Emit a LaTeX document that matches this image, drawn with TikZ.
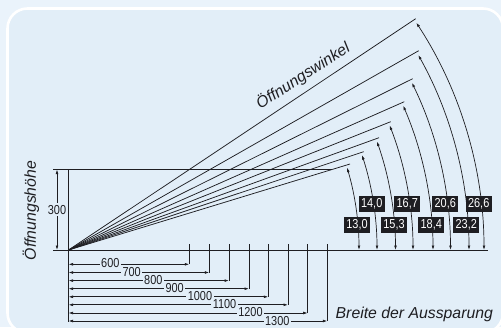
\documentclass[tikz,border=0pt]{standalone}
\usepackage{fontspec}
\setmainfont{Liberation Sans}
\newfontfamily\narrowfont[FakeStretch=0.84]{Liberation Sans}
\usetikzlibrary{arrows.meta}
\definecolor{outerbg}{HTML}{EAF3FB}
\definecolor{panelbg}{HTML}{E2EEF8}
\definecolor{ink}{HTML}{1E1E22}
\tikzset{
  x=1pt,y=-1pt,
  dimline/.style={draw=ink,line width=0.7pt,{Latex[length=4.5pt,width=2.8pt]}-{Latex[length=4.5pt,width=2.8pt]}},
  ray/.style={draw=ink,line width=0.75pt},
  baseline/.style={draw=ink,line width=0.95pt},
  tick/.style={draw=ink,line width=0.5pt},
  anglebox/.style={fill=ink,text=white,font=\narrowfont\fontsize{13}{14}\selectfont,minimum width=26pt,minimum height=16pt,inner sep=0pt},
  dimlabel/.style={fill=panelbg,text=ink,font=\narrowfont\fontsize{13}{14}\selectfont,inner xsep=1.5pt,inner ysep=0pt,text height=8pt,text depth=0pt},
  caption/.style={text=ink,font=\fontsize{15.8}{18}\selectfont\itshape,inner sep=0pt},
}
\begin{document}
\begin{tikzpicture}
\useasboundingbox (0,0) rectangle (501,327);
\fill[outerbg] (0,0) rectangle (501,327);
\draw[draw=white,line width=2.6pt,fill=panelbg,rounded corners=20pt] (7.5,8.5) rectangle (503,333);
% origin and reference lines
\coordinate (O) at (68.5,250);
\coordinate (baseL) at (53,250);
\coordinate (baseR) at (488,250);
\coordinate (topL) at (53,169.5);
\coordinate (topR) at (332,169.5);
\coordinate (topO) at (68.5,169.5);
\coordinate (bottomO) at (68.5,321.5);
\coordinate (h1) at (57,169.5);
\coordinate (h2) at (57,250);
\draw[baseline] (baseL) -- (baseR);
\draw[baseline] (topL) -- (topR);
\draw[baseline] (topO) -- (bottomO);
\draw[dimline] (h1) -- (h2) node[midway,fill=panelbg,text=ink,font=\narrowfont\fontsize{13}{14}\selectfont,inner xsep=0pt,inner ysep=2pt] (hlabel) {300};
% rays and angle arcs
\foreach \n/\ex/\ey/\r in {
  a/350/164/290.5,
  b/363.7/151.7/308.5,
  c/379/137.7/327,
  d/390.7/121.7/344.5,
  e/404.3/101.7/364.5,
  f/412.7/78.7/382,
  g/418.7/50.7/400.5,
  h/415.7/18.7/415.5}{
  \coordinate (ray\n) at (\ex,\ey);
  \draw[ray] (O) -- (ray\n);
  \pgfmathsetmacro{\ang}{atan2(250-\ey,\ex-68.5)-0.5}
  \draw[dimline] (68.5+\r,250) arc[start angle=0,end angle=-\ang,radius=\r];
}
% angle value boxes
\node[anglebox] (v13) at (357,225) {13,0};
\node[anglebox] (v14) at (371.7,203.7) {14,0};
\node[anglebox] (v153) at (394,225) {15,3};
\node[anglebox] (v167) at (407.3,203.7) {16,7};
\node[anglebox] (v184) at (431.3,225) {18,4};
\node[anglebox] (v206) at (445.3,203.7) {20,6};
\node[anglebox] (v232) at (466.3,225) {23,2};
\node[anglebox] (v266) at (478.7,203.7) {26,6};
% width dimensions
\foreach \n/\ex/\y in {
  600/189.3/264.3,
  700/209.3/272.5,
  800/229/280.6,
  900/249/288.7,
  1000/268.3/296.8,
  1100/288/304.8,
  1200/307.7/313,
  1300/327.3/321}{
  \coordinate (t\n) at (\ex,244);
  \coordinate (b\n) at (\ex,250);
  \coordinate (e\n) at (\ex,\y);
  \coordinate (s\n) at (68.5,\y);
  \draw[tick] (t\n) -- (b\n);
  \draw[tick,line width=0.7pt] (b\n) -- (e\n);
  \draw[dimline] (s\n) -- (e\n);
}
\node[dimlabel] (l600) at (110.3,263.5) {600};
\node[dimlabel] (l700) at (131.7,272) {700};
\node[dimlabel] (l800) at (153.3,280) {800};
\node[dimlabel] (l900) at (174.7,288) {900};
\node[dimlabel] (l1000) at (200,296.3) {1000};
\node[dimlabel] (l1100) at (224.5,304.3) {1100};
\node[dimlabel] (l1200) at (250.5,312.5) {1200};
\node[dimlabel] (l1300) at (277.3,321) {1300};
% captions
\node[caption,rotate=90] (chigh) at (31,210.5) {Öffnungshöhe};
\node[caption,rotate=33] (cang) at (303,76) {Öffnungswinkel};
\node[caption,anchor=west] (cwid) at (335.5,314.5) {Breite der Aussparung};
\end{tikzpicture}
\end{document}
